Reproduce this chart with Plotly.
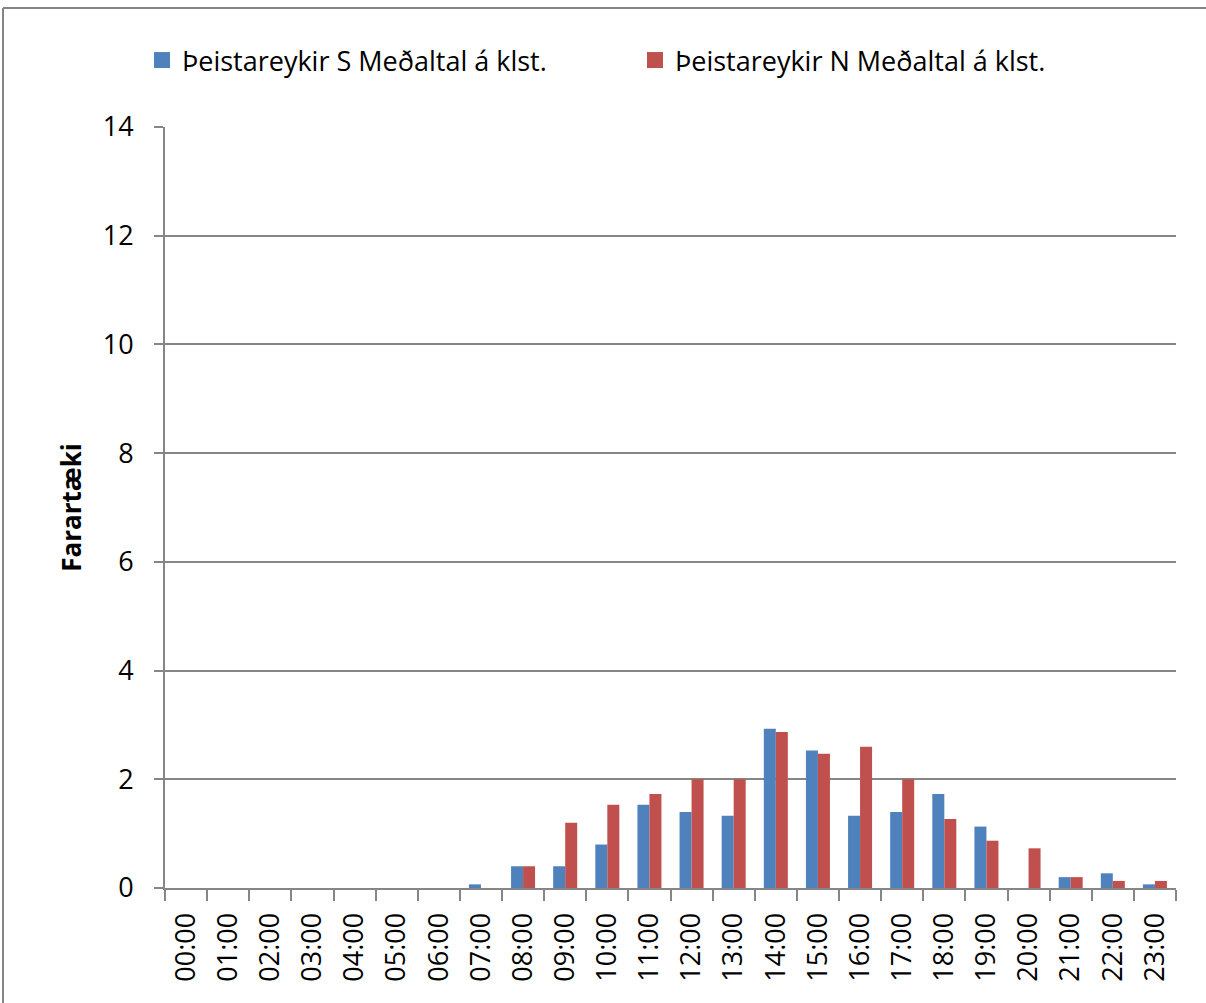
import plotly.graph_objects as go

hours = ["00:00","01:00","02:00","03:00","04:00","05:00","06:00","07:00","08:00","09:00","10:00","11:00",
         "12:00","13:00","14:00","15:00","16:00","17:00","18:00","19:00","20:00","21:00","22:00","23:00"]
s_vals = [0,0,0,0,0,0,0,0.067,0.4,0.4,0.8,1.53,1.4,1.33,2.93,2.53,1.33,1.4,1.73,1.13,0,0.2,0.27,0.067]
n_vals = [0,0,0,0,0,0,0,0,0.4,1.2,1.53,1.73,2.0,2.0,2.87,2.47,2.6,2.0,1.27,0.87,0.73,0.2,0.13,0.13]
y_ticks = [0, 2, 4, 6, 8, 10, 12, 14]
s_name = "Þeistareykir S Meðaltal á klst."
n_name = "Þeistareykir N Meðaltal á klst."

FONT = "Open Sans, Noto Sans, Liberation Sans, sans-serif"
BLUE, RED = "#4F81BD", "#C0504D"

fig = go.Figure()
fig.add_trace(go.Bar(x=hours, y=s_vals, name=s_name, showlegend=False,
                     marker=dict(color=BLUE, line=dict(width=0))))
fig.add_trace(go.Bar(x=hours, y=n_vals, name=n_name, showlegend=False,
                     marker=dict(color=RED, line=dict(width=0))))
# legend entries with larger square swatches
fig.add_trace(go.Scatter(x=[None], y=[None], mode="markers", name=s_name,
                         marker=dict(symbol="square", size=19, color=BLUE)))
fig.add_trace(go.Scatter(x=[None], y=[None], mode="markers", name=n_name,
                         marker=dict(symbol="square", size=19, color=RED)))

L, R, T, B = 165, 30, 127, 115
W, H = 1206, 1003
pw, ph = W - L - R, H - T - B

# chart frame (top and left edges visible in the reference)
fx0, fx1 = (3 - L) / pw, (W + 20 - L) / pw
fy_top, fy_bot = (H - B - 8) / ph, (H - B - H - 20) / ph
frame = dict(color="#868686", width=2)

fig.update_layout(
    width=W, height=H,
    margin=dict(l=L, r=R, t=T, b=B),
    paper_bgcolor="white", plot_bgcolor="white",
    barmode="group", bargap=0.43, bargroupgap=0,
    font=dict(family=FONT, size=27, color="black"),
    showlegend=True,
    legend=dict(orientation="h", x=(142 - L) / pw, y=1 + (T - 36) / ph, xanchor="left", yanchor="top",
                font=dict(size=27), itemsizing="trace", tracegroupgap=0,
                entrywidth=448, entrywidthmode="pixels"),
    xaxis=dict(type="category", showline=True, linecolor="#868686", linewidth=2,
               ticks="outside", tickson="boundaries", ticklen=11, tickcolor="#868686", tickwidth=2,
               tickangle=-90, tickfont=dict(size=27), ticklabelstandoff=12, showgrid=False),
    yaxis=dict(range=[0, 14], tickvals=y_ticks, showline=True, linecolor="#868686", linewidth=2,
               ticks="outside", ticklen=9, tickcolor="#868686", tickwidth=2,
               showgrid=True, gridcolor="#868686", gridwidth=2, zeroline=False,
               tickfont=dict(size=27), ticklabelstandoff=15,
               title=dict(text="<b>Farartæki</b>", font=dict(size=26), standoff=14)),
    shapes=[
        dict(type="line", xref="paper", yref="paper", x0=fx0, x1=fx1, y0=fy_top, y1=fy_top, line=frame, layer="below"),
        dict(type="line", xref="paper", yref="paper", x0=fx0, x1=fx0, y0=fy_top, y1=fy_bot, line=frame, layer="below"),
    ],
)

fig.write_html("out.html", config={"displayModeBar": False},
               post_script="document.body.style.margin='0px';")
